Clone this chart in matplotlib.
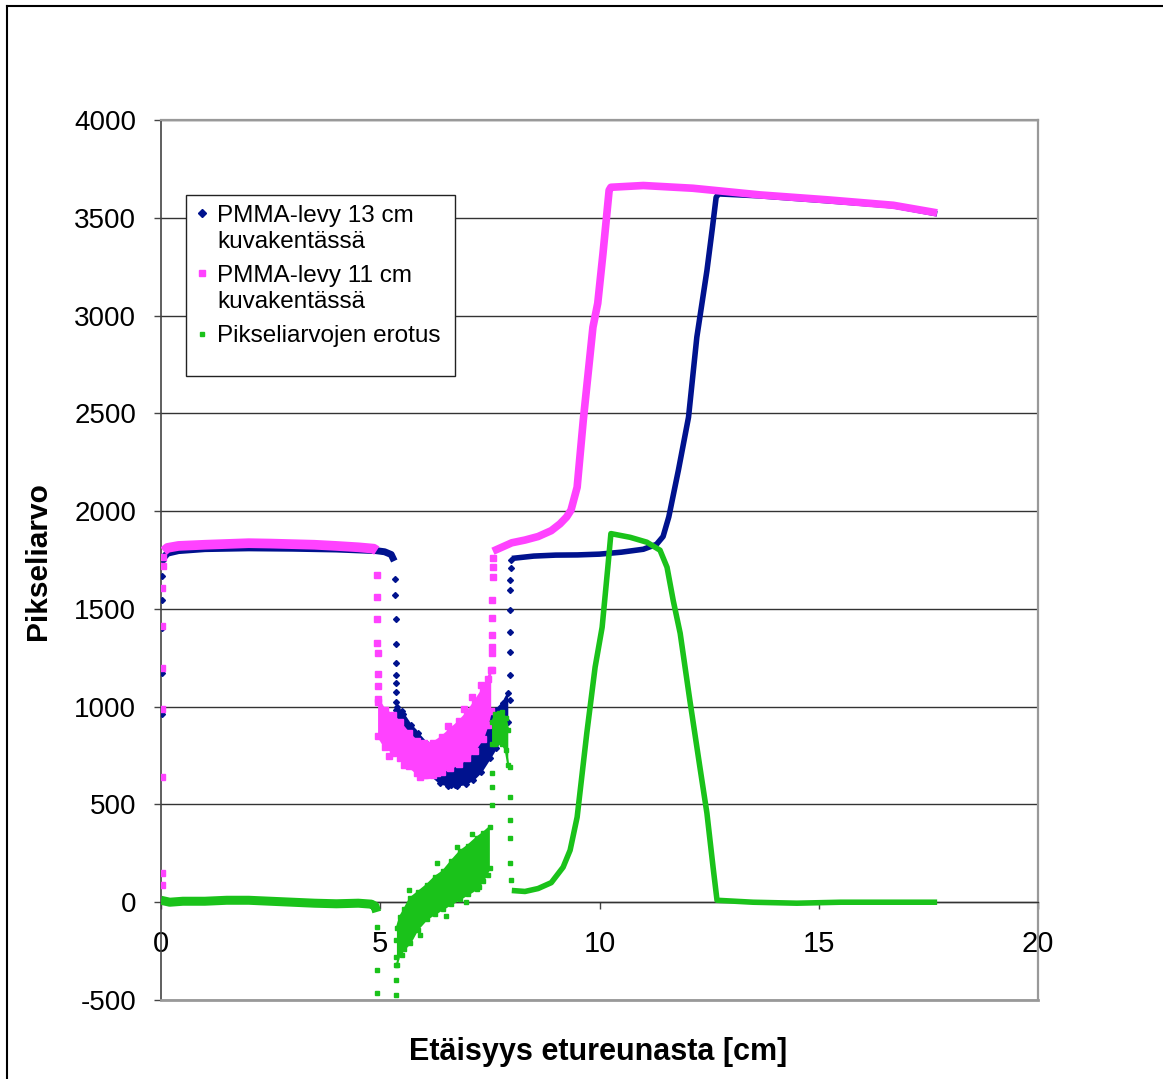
import matplotlib
matplotlib.use("Agg")
import matplotlib.pyplot as plt
from matplotlib.lines import Line2D
from matplotlib.patches import Rectangle

plt.rcParams['font.family'] = ['Liberation Sans', 'DejaVu Sans']

W, H = 1163, 1079
BLUE = '#00128e'
PINK = '#ff42ff'
GREEN = '#1ac21a'

x_ticks = [0, 5, 10, 15, 20]
y_ticks = [-500, 0, 500, 1000, 1500, 2000, 2500, 3000, 3500, 4000]

# PMMA-levy 13 cm kuvakentässä
blue_rise0_x = [0.02, 0.02, 0.02, 0.03, 0.03, 0.04]
blue_rise0_y = [960, 1170, 1400, 1545, 1670, 1750]
blue_flat1_x = [0.05, 0.15, 0.4, 1.0, 2.0, 3.0, 4.0, 4.9, 5.1, 5.25, 5.32]
blue_flat1_y = [1760, 1785, 1798, 1808, 1812, 1810, 1806, 1798, 1792, 1778, 1745]
blue_drop1_x = [5.34, 5.34, 5.35, 5.35, 5.35, 5.35, 5.36, 5.36, 5.36, 5.37, 5.37]
blue_drop1_y = [1652, 1570, 1447, 1319, 1222, 1161, 1120, 1074, 1023, 982, 930]
blue_dip_x = [5.38, 5.52, 5.7, 5.85, 6.05, 6.36, 6.55, 6.75, 6.95, 7.12, 7.3, 7.5, 7.65, 7.8, 7.92]
blue_dip_lo = [880, 805, 755, 720, 670, 610, 595, 595, 605, 625, 665, 735, 790, 860, 920]
blue_dip_hi = [1000, 965, 905, 865, 815, 745, 735, 745, 775, 815, 865, 945, 985, 1020, 1070]
blue_spots_x = [5.5, 5.75, 6.1, 6.4, 6.62, 6.7, 7.05, 7.35, 7.6]
blue_spots_y = [980, 880, 760, 620, 598, 600, 640, 720, 810]
blue_rise2_x = [7.95, 7.95, 7.96, 7.96, 7.96, 7.97, 7.97, 7.98, 7.98]
blue_rise2_y = [1033, 1161, 1278, 1381, 1493, 1595, 1646, 1708, 1749]
blue_flat2_x = [8.0, 8.5, 9.0, 9.5, 10.0, 10.5, 11.0, 11.3, 11.45, 11.58, 11.8, 12.03,
                12.22, 12.45, 12.57, 12.66, 12.72, 13.66, 15.19, 16.7, 17.7]
blue_flat2_y = [1758, 1770, 1775, 1776, 1780, 1790, 1805, 1830, 1870, 1970, 2210, 2480,
                2890, 3230, 3440, 3605, 3622, 3612, 3587, 3561, 3520]

# PMMA-levy 11 cm kuvakentässä
pink_rise0_x = [0.02, 0.02, 0.02, 0.02, 0.02, 0.03, 0.03, 0.04, 0.05]
pink_rise0_y = [90, 150, 640, 990, 1200, 1410, 1605, 1720, 1765]
pink_flat1_x = [0.06, 0.15, 0.4, 1.0, 1.5, 2.0, 2.5, 3.0, 3.5, 4.0, 4.5, 4.85, 4.92]
pink_flat1_y = [1795, 1812, 1822, 1828, 1832, 1836, 1834, 1831, 1828, 1822, 1815, 1808, 1798]
pink_drop1_x = [4.92, 4.93, 4.93, 4.93, 4.94, 4.94, 4.94, 4.95]
pink_drop1_y = [1672, 1560, 1447, 1324, 1273, 1166, 1105, 1023]
pink_dip_x = [4.95, 5.1, 5.3, 5.45, 5.65, 5.83, 6.0, 6.2, 6.4, 6.6, 6.8, 6.98, 7.15, 7.34, 7.45, 7.53]
pink_dip_lo = [850, 795, 765, 740, 695, 660, 650, 650, 665, 685, 705, 735, 775, 835, 905, 980]
pink_dip_hi = [1040, 985, 955, 920, 865, 825, 815, 815, 845, 885, 925, 970, 1025, 1090, 1140, 1190]
pink_spots_x = [5.2, 5.55, 5.9, 6.05, 6.3, 6.55, 6.9, 7.1, 7.3]
pink_spots_y = [750, 700, 640, 650, 660, 900, 990, 1050, 1110]
pink_rise2_x = [7.54, 7.54, 7.55, 7.55, 7.55, 7.55, 7.56, 7.56, 7.56]
pink_rise2_y = [1186, 1273, 1304, 1365, 1452, 1544, 1662, 1713, 1759]
pink_flat2_x = [7.57, 7.8, 8.0, 8.3, 8.6, 8.9, 9.1, 9.25, 9.35, 9.49, 9.63, 9.85, 9.96,
                10.08, 10.22, 10.26, 11.0, 12.13, 13.66, 15.19, 16.7, 17.7]
pink_flat2_y = [1795, 1818, 1838, 1852, 1870, 1900, 1935, 1970, 2005, 2122, 2465, 2940, 3063,
                3319, 3641, 3656, 3665, 3651, 3617, 3592, 3564, 3525]

# Pikseliarvojen erotus
green_flat1_x = [0.0, 0.2, 0.5, 1.0, 1.5, 2.0, 2.5, 3.0, 3.5, 4.0, 4.5, 4.8, 4.88, 4.92]
green_flat1_y = [10, 0, 5, 5, 10, 10, 5, 0, -5, -8, -5, -10, -20, -50]
green_drop1_x = [4.93, 4.93, 4.93]
green_drop1_y = [-128, -348, -465]
green_rise1_x = [5.35, 5.35, 5.36, 5.36, 5.36]
green_rise1_y = [-476, -399, -322, -281, -194]
green_dip_x = [5.38, 5.45, 5.55, 5.68, 5.85, 6.07, 6.25, 6.43, 6.62, 6.82, 7.0, 7.2, 7.35, 7.5]
green_dip_lo = [-320, -260, -240, -210, -140, -85, -60, -35, -10, 16, 40, 67, 110, 175]
green_dip_hi = [-130, -75, -35, 20, 50, 90, 130, 158, 210, 260, 290, 330, 355, 385]
green_spots_x = [5.5, 5.65, 5.9, 6.3, 6.5, 6.75, 6.95, 7.1, 7.25, 7.45]
green_spots_y = [-270, 60, -170, 200, -70, 280, 0, 350, 80, 140]
green_jump_x = [7.55, 7.55, 7.55]
green_jump_y = [496, 588, 660]
green_peak_x = [7.55, 7.62, 7.7, 7.78, 7.86, 7.92]
green_peak_lo = [810, 810, 820, 810, 780, 700]
green_peak_hi = [920, 960, 970, 975, 940, 880]
green_drop2_x = [7.96, 7.96, 7.97, 7.97, 7.97, 7.98]
green_drop2_y = [690, 537, 419, 327, 199, 112]
green_flat2_x = [8.0, 8.3, 8.6, 8.9, 9.17, 9.33, 9.49, 9.71, 9.9, 10.06, 10.19, 10.26, 10.7,
                 11.08, 11.38, 11.54, 11.68, 11.84, 12.06, 12.29, 12.45, 12.59, 12.68, 13.5,
                 14.5, 15.5, 16.5, 17.7]
green_flat2_y = [60, 55, 70, 100, 179, 266, 435, 864, 1202, 1406, 1713, 1885, 1866,
                 1841, 1800, 1713, 1544, 1375, 1033, 690, 455, 179, 10, 0,
                 -5, 0, 0, 0]

fig = plt.figure(figsize=(W / 100, H / 100), dpi=100)
ax = fig.add_axes([161 / W, 79 / H, 877 / W, 880 / H])


def draw_series(color, marker, ms, lws, flats, sparse, bands):
    for (xs, ys), lw in zip(flats, lws):
        ax.plot(xs, ys, color=color, lw=lw, solid_capstyle='butt',
                solid_joinstyle='round', zorder=3)
    for xs, ys in sparse:
        ax.plot(xs, ys, ls='none', color=color, marker=marker, ms=ms, zorder=3)
    for xs, lo, hi in bands:
        ax.fill_between(xs, lo, hi, facecolor=color, lw=0, zorder=3)
        # ragged edges of the noisy region
        ax.plot(xs, lo, color=color, lw=1.5, marker=marker, ms=ms, zorder=3)
        ax.plot(xs, hi, color=color, lw=1.5, marker=marker, ms=ms, zorder=3)


draw_series(BLUE, 'D', 3, [5, 4],
            [(blue_flat1_x, blue_flat1_y), (blue_flat2_x, blue_flat2_y)],
            [(blue_rise0_x, blue_rise0_y), (blue_drop1_x, blue_drop1_y),
             (blue_rise2_x, blue_rise2_y), (blue_spots_x, blue_spots_y)],
            [(blue_dip_x, blue_dip_lo, blue_dip_hi)])
draw_series(PINK, 's', 4.5, [7, 5.5],
            [(pink_flat1_x, pink_flat1_y), (pink_flat2_x, pink_flat2_y)],
            [(pink_rise0_x, pink_rise0_y), (pink_drop1_x, pink_drop1_y),
             (pink_rise2_x, pink_rise2_y), (pink_spots_x, pink_spots_y)],
            [(pink_dip_x, pink_dip_lo, pink_dip_hi)])
draw_series(GREEN, 's', 3.5, [6.5, 4],
            [(green_flat1_x, green_flat1_y), (green_flat2_x, green_flat2_y)],
            [(green_drop1_x, green_drop1_y), (green_rise1_x, green_rise1_y),
             (green_jump_x, green_jump_y), (green_drop2_x, green_drop2_y),
             (green_spots_x, green_spots_y)],
            [(green_dip_x, green_dip_lo, green_dip_hi),
             (green_peak_x, green_peak_lo, green_peak_hi)])

ax.set_xlim(0, 20)
ax.set_ylim(-500, 4000)
ax.set_xticks(x_ticks)
ax.set_yticks(y_ticks)
ax.set_xticklabels([str(v) for v in x_ticks])
ax.set_yticklabels([str(v) for v in y_ticks])

ax.set_axisbelow(True)
ax.yaxis.grid(True, color='#333333', lw=1)
ax.spines['bottom'].set_position(('data', 0))
ax.spines['bottom'].set_color('#333333')
ax.spines['bottom'].set_linewidth(1)
ax.spines['left'].set_color('#444444')
ax.spines['left'].set_linewidth(1.2)
for s in ('top', 'right'):
    ax.spines[s].set_color('#999999')
    ax.spines[s].set_linewidth(1.6)
ax.axhline(-500, color='#999999', lw=2, clip_on=False, zorder=2.6)

ax.tick_params(axis='y', direction='out', length=5, width=1, color='#444444',
               pad=13, labelsize=20)
ax.tick_params(axis='x', direction='out', length=5, width=1, color='#444444',
               pad=15, labelsize=21)

ax.set_xlabel('Etäisyys etureunasta [cm]', fontsize=22, fontweight='bold', va='center')
ax.xaxis.set_label_coords(437 / 877, -52 / 880)
ax.set_ylabel('Pikseliarvo', fontsize=21.5, fontweight='bold', va='center')
ax.yaxis.set_label_coords(-123 / 877, 439 / 880)

# legend box drawn by hand
tf = fig.transFigure
box = Rectangle((186 / W, 1 - 376 / H), 269 / W, 181 / H, transform=tf,
                facecolor='white', edgecolor='#222222', lw=1, zorder=10, clip_on=False)
ax.add_patch(box)
entries = [
    (BLUE, 'D', 4, 213, [('PMMA-levy 13 cm', 222), ('kuvakentässä', 248)]),
    (PINK, 's', 5, 273, [('PMMA-levy 11 cm', 282), ('kuvakentässä', 308)]),
    (GREEN, 's', 3.5, 334, [('Pikseliarvojen erotus', 342)]),
]
for color, marker, ms, my, lines in entries:
    ax.add_line(Line2D([202 / W], [1 - my / H], transform=tf, color=color,
                       marker=marker, ms=ms, ls='none', zorder=11, clip_on=False))
    for txt, base in lines:
        fig.text(217 / W, 1 - base / H, txt, fontsize=17.5, va='baseline',
                 ha='left', zorder=12)

# outer chart frame
fig.add_artist(Line2D([7 / W, 7 / W], [0, 1 - 6 / H], color='black', lw=1.5))
fig.add_artist(Line2D([7 / W, 1], [1 - 6 / H, 1 - 6 / H], color='black', lw=1.5))

fig.savefig('out.png', dpi=100)
